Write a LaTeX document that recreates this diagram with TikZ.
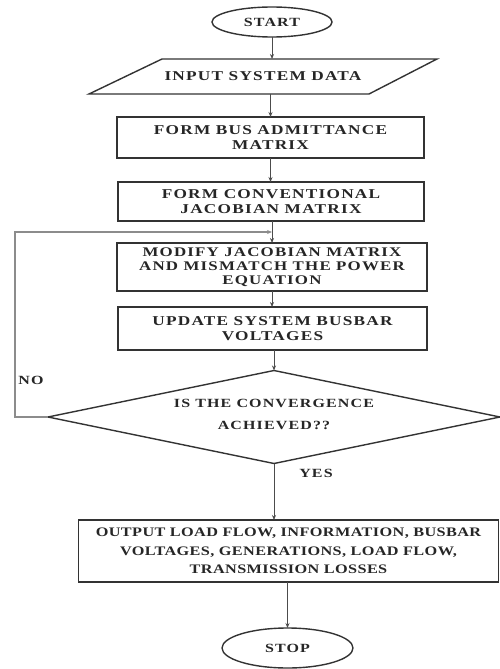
\documentclass[tikz,border=0pt]{standalone}
\usepackage{fontspec}
\setmainfont{Liberation Serif}
\newfontfamily\boxfont[FakeStretch=1.28,LetterSpace=9]{Liberation Serif Bold}
\newfontfamily\widefont[FakeStretch=1.25,LetterSpace=3]{Liberation Serif Bold}
\usetikzlibrary{shapes.geometric,arrows.meta}
\begin{document}
\begin{tikzpicture}[x=1pt,y=-1pt,
  every node/.style={inner sep=0pt,outer sep=0pt},
  txt/.style={font=\boxfont\fontsize{13.5}{14.5}\selectfont,align=center,text=black!85},
  procbox/.style={txt,draw=black!80,line width=1.6pt,rectangle},
  term/.style={txt,draw=black!80,line width=1.4pt,ellipse},
  arr/.style={draw=black!70,line width=0.9pt,-{Stealth[length=5pt,width=4pt]}},
  loopline/.style={draw=black!45,line width=1.3pt,-{Stealth[length=5pt,width=4pt]}},
  lbl/.style={font=\boxfont\fontsize{12.5}{13}\selectfont,text=black!85}]
\useasboundingbox (0,0) rectangle (499,669);
\fill[white] (0,0) rectangle (499,669);

\node[term,minimum width=120pt,minimum height=30pt,font=\boxfont\fontsize{12.5}{13}\selectfont] (start) at (272,22) {START};

\node[txt,minimum width=280pt,minimum height=35pt] (input) at (263,76.5) {INPUT SYSTEM DATA};
\draw[black!80,line width=1.4pt,line join=miter] (162,59) -- (437,59) -- (369,94) -- (89,94) -- cycle;

\node[procbox,minimum width=307pt,minimum height=41pt] (b1) at (270.5,137.5) {FORM BUS ADMITTANCE\\MATRIX};
\node[procbox,minimum width=306pt,minimum height=39pt] (b2) at (271,201.5) {FORM CONVENTIONAL\\JACOBIAN MATRIX};
\node[procbox,font=\boxfont\fontsize{13.2}{13.8}\selectfont,minimum width=310pt,minimum height=48pt] (b3) at (272,267) {MODIFY JACOBIAN MATRIX\\AND MISMATCH THE POWER\\EQUATION};
\node[procbox,minimum width=309pt,minimum height=43pt] (b4) at (272.5,328.5) {UPDATE SYSTEM BUSBAR\\VOLTAGES};

\node[draw=black!80,line width=1.4pt,diamond,minimum width=452pt,minimum height=93pt,aspect=4.8] (dec) at (274,417) {};
\node[txt,font=\boxfont\fontsize{12.5}{22}\selectfont] (dectext) at (274,414) {IS THE CONVERGENCE\\ACHIEVED??};

\node[procbox,font=\widefont\fontsize{13}{18.5}\selectfont,minimum width=420pt,minimum height=62pt] (b5) at (288.5,551) {OUTPUT LOAD FLOW, INFORMATION, BUSBAR\\VOLTAGES, GENERATIONS, LOAD FLOW,\\TRANSMISSION LOSSES};

\node[term,minimum width=131pt,minimum height=40pt,font=\boxfont\fontsize{12.5}{13}\selectfont] (stop) at (287.5,648) {STOP};

\node[lbl] (no) at (31,380) {NO};
\node[lbl] (yes) at (316,473) {YES};

\draw[arr] (start.south) -- (start.south |- input.north);
\draw[arr] (b1.north |- input.south) -- (b1.north);
\draw[arr] (b1.south) -- (b1.south |- b2.north);
\draw[arr] (b3.north |- b2.south) -- (b3.north);
\draw[arr] (b3.south) -- (b3.south |- b4.north);
\draw[arr] (dec.north |- b4.south) -- (dec.north);
\draw[arr] (dec.south) -- (dec.south |- b5.north);
\draw[arr] (stop.north |- b5.south) -- (stop.north);

\coordinate (join) at (b3.north |- 0,232);
\draw[loopline] (dec.west) -- (15,417) |- (join);
\end{tikzpicture}
\end{document}
